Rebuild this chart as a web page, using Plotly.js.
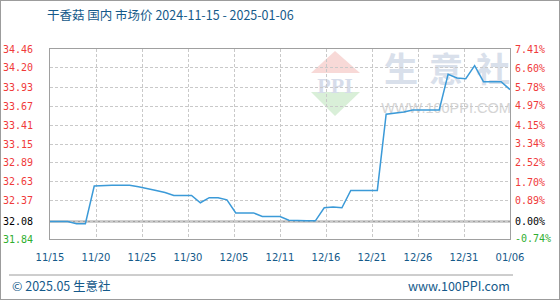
<!DOCTYPE html>
<html>
<head>
<meta charset="utf-8">
<script src="https://cdn.plot.ly/plotly-3.0.1.min.js"></script>
<style>
  html, body { margin: 0; padding: 0; background: #fff; }
  #wrap { position: relative; width: 560px; height: 300px; }
  #chart { width: 560px; height: 300px; }
  #frame { position: absolute; left: 0; top: 0; width: 560px; height: 300px;
           box-sizing: border-box; border: 1px solid #9c9c9c; pointer-events: none; }
</style>
</head>
<body>
<div id="wrap"><div id="chart"></div><div id="frame"></div></div>
<script>
// Daily domestic market price of dried shiitake (干香菇)
const dates = [
  '2024-11-15','2024-11-16','2024-11-17','2024-11-18','2024-11-19','2024-11-20','2024-11-21',
  '2024-11-22','2024-11-23','2024-11-24','2024-11-25','2024-11-26','2024-11-27','2024-11-28',
  '2024-11-29','2024-11-30','2024-12-01','2024-12-02','2024-12-03','2024-12-04','2024-12-05',
  '2024-12-06','2024-12-07','2024-12-08','2024-12-09','2024-12-10','2024-12-11','2024-12-12',
  '2024-12-13','2024-12-14','2024-12-15','2024-12-16','2024-12-17','2024-12-18','2024-12-19',
  '2024-12-20','2024-12-21','2024-12-22','2024-12-23','2024-12-24','2024-12-25','2024-12-26',
  '2024-12-27','2024-12-28','2024-12-29','2024-12-30','2024-12-31','2025-01-01','2025-01-02',
  '2025-01-03','2025-01-04','2025-01-05','2025-01-06'
];
const prices = [
  32.08, 32.08, 32.08, 32.05, 32.05, 32.57, 32.58,
  32.58, 32.58, 32.58, 32.56, 32.54, 32.51, 32.48,
  32.44, 32.44, 32.44, 32.34, 32.41, 32.41, 32.38,
  32.20, 32.20, 32.20, 32.15, 32.15, 32.15, 32.10,
  32.09, 32.09, 32.09, 32.27, 32.28, 32.27, 32.51,
  32.51, 32.51, 32.51, 33.56, 33.57, 33.59, 33.62,
  33.62, 33.62, 33.62, 34.11, 34.06, 34.05, 34.23,
  34.01, 34.01, 34.01, 33.90
];
const basePrice = 32.08;

const priceTicks = [31.84, 32.08, 32.37, 32.63, 32.89, 33.15, 33.41, 33.67, 33.93, 34.20, 34.46];
const priceTickText = ['31.84', '32.08', '32.37', '32.63', '32.89', '33.15', '33.41', '33.67', '33.93', '34.20', '34.46'];
const pctTicks = [-0.74, 0, 0.89, 1.70, 2.52, 3.34, 4.15, 4.97, 5.78, 6.60, 7.41];
const pctTickText = ['-0.74%', '0.00%', '0.89%', '1.70%', '2.52%', '3.34%', '4.15%', '4.97%', '5.78%', '6.60%', '7.41%'];
const dateTickText = ['11/15', '11/20', '11/25', '11/30', '12/05', '12/11', '12/16', '12/21', '12/26', '12/31', '01/06'];

const titleText = '干香菇 国内 市场价 2024-11-15 - 2025-01-06';
const footerLeft = '© 2025.05 生意社';
const footerRight = 'www.100PPI.com';

// colour a tick label by its sign relative to the base price
function tone(sign) {
  if (sign > 0) return '#f03a3a';
  if (sign < 0) return '#2fae2f';
  return '#000000';
}
const priceLabels = priceTicks.map((v, i) =>
  '<span style="color:' + tone(Math.round((v - basePrice) * 100)) + '">' + priceTickText[i] + '</span>');
const pctLabels = pctTicks.map((v, i) =>
  '<span style="color:' + tone(Math.round(v * 100)) + '">' + pctTickText[i] + '</span>');

// change versus the first day, in percent (carries the right-hand axis)
const changePct = prices.map(p => (p / basePrice - 1) * 100);

// ten equal steps across the date range for the vertical grid
function pad(n) { return (n < 10 ? '0' : '') + n; }
function fmt(ms) {
  const d = new Date(ms);
  return d.getUTCFullYear() + '-' + pad(d.getUTCMonth() + 1) + '-' + pad(d.getUTCDate()) + ' ' +
         pad(d.getUTCHours()) + ':' + pad(d.getUTCMinutes()) + ':' + pad(d.getUTCSeconds());
}
const t0 = Date.parse(dates[0]);
const t1 = Date.parse(dates[dates.length - 1]);
const dateTickVals = dateTickText.map((_, k) => fmt(t0 + (t1 - t0) * k / (dateTickText.length - 1)));

const yMin = priceTicks[0], yMax = priceTicks[priceTicks.length - 1];
const pctRange = [(yMin / basePrice - 1) * 100, (yMax / basePrice - 1) * 100];

const gridColor = '#c9c9c9';
const frameColor = '#a0a0a0';
const blueText = '#155a8a';

// plot-area geometry helpers (paper fractions)
const L = 50, R = 510, T = 49, B = 239;
const px = x => (x - L) / (R - L);
const py = y => (B - y) / (B - T);

function mark(cx, cy, w, h, text, font) {
  return {
    type: 'rect', xref: 'paper', yref: 'paper', layer: 'below',
    x0: px(cx - w / 2), x1: px(cx + w / 2), y0: py(cy + h / 2), y1: py(cy - h / 2),
    line: { width: 0 }, fillcolor: 'rgba(0,0,0,0)',
    label: { text: text, font: font, textposition: 'middle center', padding: 0 }
  };
}
const wmCJK = { family: 'Noto Sans CJK SC', size: 34, color: '#d9e0eb', weight: 'bold' };

const shapes = [
  // logo: red roof and green base
  { type: 'path', xref: 'paper', yref: 'paper', layer: 'below',
    path: 'M' + px(335) + ',' + py(51) + ' L' + px(360) + ',' + py(73) + ' L' + px(311) + ',' + py(73) + ' Z',
    fillcolor: '#f8d9d7', line: { width: 0 } },
  { type: 'path', xref: 'paper', yref: 'paper', layer: 'below',
    path: 'M' + px(311) + ',' + py(92) + ' L' + px(360) + ',' + py(92) + ' L' + px(335) + ',' + py(116) + ' Z',
    fillcolor: '#d9efd8', line: { width: 0 } },
  mark(335, 83, 50, 16, 'PPI', { family: 'Liberation Serif', size: 22, color: '#d6dcea', weight: 'bold' }),
  mark(401, 72, 40, 34, '生', wmCJK),
  mark(446, 72, 40, 34, '意', wmCJK),
  mark(493, 72, 40, 34, '社', wmCJK),
  mark(446, 106, 130, 16, 'WWW.100PPI.COM', { family: 'Liberation Sans', size: 14.5, color: '#d5d5d5' }),
  // base-price reference line
  { type: 'line', xref: 'paper', yref: 'y', x0: 0, x1: 1, y0: basePrice, y1: basePrice,
    layer: 'between', line: { color: frameColor, width: 2 } },
  // footer separator
  { type: 'line', xref: 'paper', yref: 'paper', x0: px(9), x1: px(513), y0: py(275), y1: py(275),
    line: { color: '#9c9c9c', width: 1 } }
];

const priceTrace = {
  x: dates, y: prices, type: 'scatter', mode: 'lines',
  line: { color: '#3b9ad8', width: 1.5 }, hoverinfo: 'skip', showlegend: false
};
// same series in percent terms; it only anchors the right-hand scale
const pctTrace = {
  x: dates, y: changePct, yaxis: 'y2', type: 'scatter', mode: 'lines',
  line: { color: 'rgba(0,0,0,0)', width: 0 }, opacity: 0, hoverinfo: 'skip', showlegend: false
};

const layout = {
  width: 560, height: 300,
  margin: { l: L, r: 560 - R, t: T, b: 300 - B, pad: 0 },
  paper_bgcolor: '#ffffff', plot_bgcolor: '#ffffff',
  showlegend: false,
  title: {
    text: titleText,
    font: { family: 'Noto Sans CJK SC', size: 12.5, color: blueText },
    xref: 'container', yref: 'container', x: 47 / 560, xanchor: 'left', y: 1 - 16 / 300, yanchor: 'middle'
  },
  xaxis: {
    type: 'date', range: [dates[0], dates[dates.length - 1]],
    tickmode: 'array', tickvals: dateTickVals, ticktext: dateTickText,
    showgrid: true, gridcolor: gridColor, griddash: '3px,2px', gridwidth: 1,
    showline: true, mirror: true, linecolor: frameColor, linewidth: 1,
    ticks: '', zeroline: false, ticklabelstandoff: 9,
    tickfont: { family: 'DejaVu Sans', size: 10, color: blueText }
  },
  yaxis: {
    range: [yMin, yMax], tickmode: 'array', tickvals: priceTicks, ticktext: priceLabels,
    showgrid: true, gridcolor: gridColor, griddash: '3px,2px', gridwidth: 1,
    showline: true, mirror: true, linecolor: frameColor, linewidth: 1,
    ticks: '', zeroline: false, ticklabelstandoff: 14,
    tickfont: { family: 'DejaVu Sans Mono', size: 10 }
  },
  yaxis2: {
    overlaying: 'y', side: 'right', anchor: 'x', range: pctRange,
    tickmode: 'array', tickvals: pctTicks, ticktext: pctLabels,
    showgrid: false, showline: false, zeroline: false, ticks: '', ticklabelstandoff: 4,
    tickfont: { family: 'DejaVu Sans Mono', size: 10 }
  },
  shapes: shapes,
  annotations: [
    { text: footerLeft, xref: 'paper', yref: 'paper', x: px(10), y: py(285), xanchor: 'left', yanchor: 'middle',
      showarrow: false, font: { family: 'Noto Sans CJK SC', size: 12.5, color: blueText } },
    { text: footerRight, xref: 'paper', yref: 'paper', x: px(512), y: py(285), xanchor: 'right', yanchor: 'middle',
      showarrow: false, font: { family: 'Noto Sans CJK SC', size: 12.5, color: blueText } }
  ]
};

Plotly.newPlot('chart', [priceTrace, pctTrace], layout, { staticPlot: true, displayModeBar: false });
</script>
</body>
</html>
